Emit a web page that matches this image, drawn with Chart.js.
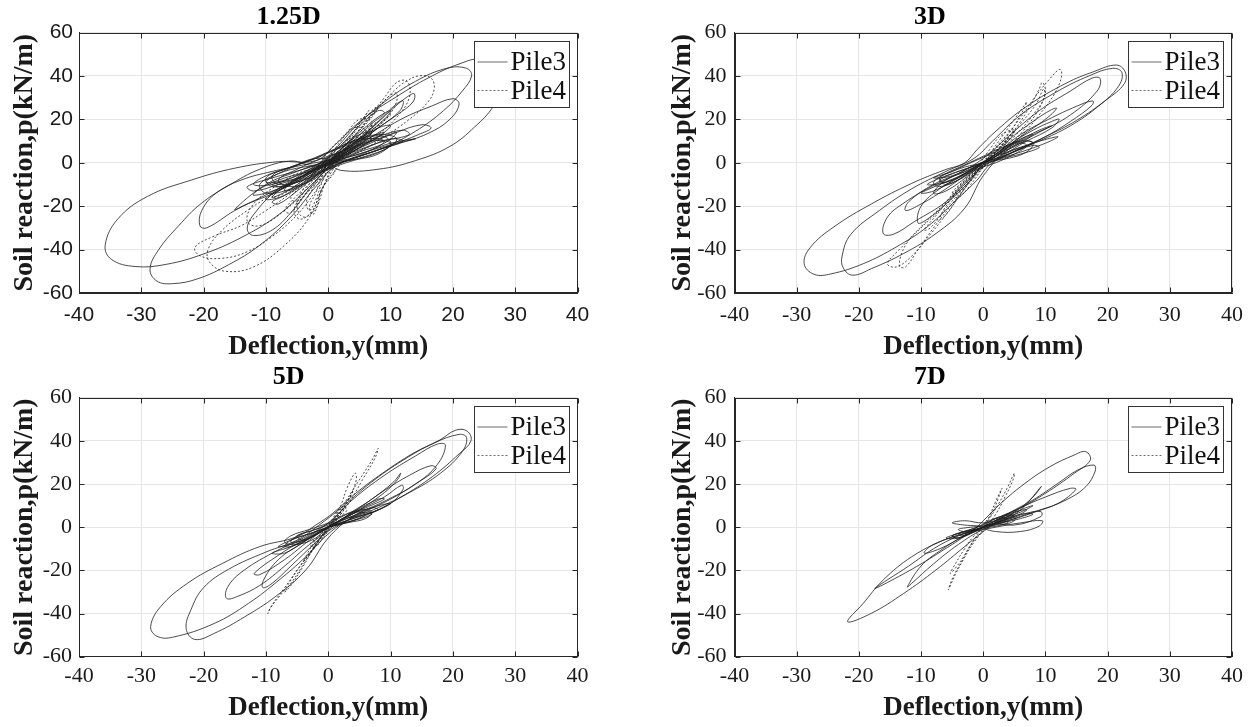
<!DOCTYPE html>
<html>
<head>
<meta charset="utf-8">
<script src="https://cdn.jsdelivr.net/npm/chart.js@4.4.0/dist/chart.umd.min.js"></script>
<style>
  html, body { margin: 0; padding: 0; background: #fff; }
  #wrap { position: relative; width: 1255px; height: 727px; overflow: hidden; }
  canvas { position: absolute; }
</style>
</head>
<body>
<div id="wrap">
  <canvas id="c125" width="628" height="363" style="left:0;top:0"></canvas>
  <canvas id="c3d" width="627" height="363" style="left:628px;top:0"></canvas>
  <canvas id="c5d" width="628" height="364" style="left:0;top:363px"></canvas>
  <canvas id="c7d" width="627" height="364" style="left:628px;top:363px"></canvas>
</div>
<script>
const panelTitles = ["1.25D", "3D", "5D", "7D"];
const seriesLabels = ["Pile3", "Pile4"];
const xTickValues = [-40, -30, -20, -10, 0, 10, 20, 30, 40];
const yTickValues = [-60, -40, -20, 0, 20, 40, 60];
const xAxisTitle = "Deflection,y(mm)";
const yAxisTitle = "Soil reaction,p(kN/m)";

// traced loops, [deflection, reaction] in drawing order
const pile3_125D = [
  [0,0],[2,-3.5],[8,-3],[14,1],[19.5,7.5],[23.5,16.5],[26.5,26],[27.5,34],[26.5,42],[24.5,47.5],[21,45.5],[16,39],[11,30.5],[5.5,20],[1,8],[-2,1],
  [-8,0.5],[-15,-2.5],[-22,-8],[-29,-15.5],[-33.8,-26],[-35.8,-38],[-34.8,-44.5],[-31,-47.8],[-26,-46.8],[-20,-42],[-14,-34.5],[-8,-24],[-3,-11],[0,-3],
  [4,2],[9,7],[14,14.5],[18.5,24],[21.5,33],[23,40],[22.2,43.5],[19,43.5],[14,37.5],[9,28],[4.5,17],[1,6],[-2,-1],
  [-6,0.8],[-11,-3],[-16,-10.5],[-20.5,-19],[-24,-29],[-27.2,-40],[-28.6,-49],[-27.5,-54.5],[-25,-55.7],[-21,-53.5],[-16,-47],[-11,-38],[-6,-25],[-2,-11],[1,-2],
  [6,4],[11,8.5],[16,13.5],[19.5,20],[21,27],[20,29.5],[16.5,26],[12,20.5],[7,12],[2,3],
  [-4,-1],[-9,-4],[-14,-8],[-18,-14],[-20.3,-22],[-20.6,-29],[-19.5,-30],[-15,-22],[-10.5,-15.5],[-6,-9],[-1,-1.5],
  [5,3],[10,8],[14.5,13],[16.5,16],[15,17.5],[11,14],[6,8],[1,1],
  [-4,-6],[-8,-12],[-12,-24],[-13,-30.5],[-12,-33.5],[-9,-31],[-6,-23],[-3,-12],[0,-2],
  [3,6],[7,16],[10,24],[12.5,30],[13.8,31.8],[13.6,28],[11,22],[7,14],[3,5],
  [-5,-4],[-10,-10],[-15,-21.5],[-13,-19],[-8,-13],[-3,-5],
  [4,9],[8,19],[10.5,26],[12,28.5],[11.5,24],[8,16],[4,8],[0,1],
  [-4,-6],[-8,-13],[-9,-16],[-6,-12],[-2,-4],[3,4],[7,10],[9,14],[7,12],[3,5],[0,0],
  [2,5],[5,9],[7,14],[5,13],[1,4],[-3,-3],[-6,-9],[-7,-13],[-4,-10],[0,-2],[4,6],[8,12],[10,17],[8,16],[3,7],[-2,-2],[-5,-7],[-9,-10],[-7,-11],[-3,-6],[1,0],
  [-2,2],[-6,-2],[-10,-6],[-12,-10],[-9,-10],[-5,-6],[-1,-1],[3,5],[6,9],[9,12],[11,14],[9,9],[5,5],[1,0],
  [-3,-4],[-7,-7],[-11,-12],[-12,-15],[-8,-12],[-4,-6],[0,0],[3,3],[7,8],[10,11],[12,10],[8,6],[4,2],[0,-1],
  [-4,-2],[-8,-5],[-10,-9],[-7,-8],[-3,-3],[2,2],[5,7],[7,11],[5,10],[2,5],[-1,1],
  [0,0],[3,7],[6,13],[9,20],[10,24],[8,21],[5,14],[2,6],[-1,-2],[-4,-9],[-7,-15],[-9,-18],[-8,-19],[-5,-13],[-2,-6],[1,1],
  [5,6],[9,10],[13,13],[12,15],[8,12],[4,7],[0,1],[-4,-3],[-9,-7],[-13,-11],[-12,-13],[-8,-10],[-3,-5],[0,0],
  [4,10],[7,18],[9,23],[8,24],[5,17],[2,8],[-2,-3],[-6,-10],[-9,-14],[-10,-17],[-7,-15],[-3,-8],[0,-1],
  [6,5],[11,9],[14,11],[10,9],[5,4],[0,0],
  [5,2],[9,6],[11,11],[8,13],[4,10],[0,5],[-4,0],[-8,-5],[-11,-10],[-10,-14],[-6,-12],[-2,-6],[1,-1],
  [6,3],[10,8],[9,12],[5,11],[1,6],[-3,1],[-7,-3],[-10,-7],[-9,-11],[-5,-9],[-1,-4],[2,0],
  [7,6],[9,10],[6,11],[2,7],[-2,2],[-6,-2],[-9,-6],[-8,-10],[-4,-8],[0,-3],
  [4,1],[8,4],[10,9],[7,10],[3,6],[-1,2],[-5,-3],[-8,-8],[-6,-11],[-2,-7],[0,0]
];
const pile4_125D = [
  [0,0],[2,6],[5,15],[8,25],[10.5,33],[12.5,37.5],[14.5,40],[16.5,39],[17,34],[16,28],[13,20],[9,12],[5,5],[1,0],
  [-3,-7],[-6,-14],[-10,-22],[-14,-29],[-18.5,-34],[-21.4,-39],[-20.5,-43],[-17,-44],[-13,-41],[-9,-34],[-5,-24],[-2,-13],[0,-4],
  [3,8],[6,19],[9,30],[11,37],[12.7,37.5],[13,30],[11,21],[8,13],[4,5],[0,-1],
  [-3,-5],[-8,-13],[-13,-22],[-17,-31],[-19.3,-40],[-19,-46],[-16.5,-50],[-12,-48],[-7,-38],[-3,-25],[-1,-12],[1,-2],
  [4,11],[7,22],[9.5,30],[11,32],[10.5,25],[7.5,15],[4,6],[0,0],
  [-2,-6],[-4,-14],[-5.5,-22],[-4.5,-26],[-2.5,-22],[-1,-12],[1,-3],
  [-4,-4],[-8,-10],[-12,-19],[-13,-27],[-11,-29],[-7,-22],[-3,-11],[0,-2],
  [3,5],[6,12],[9,20],[10,22],[8,17],[5,10],[2,3],[0,0],
  [2,5],[4,10],[6,16],[7,18],[6,13],[4,7],[1,1],[-1,-5],[-2.5,-12],[-3.5,-18],[-3,-22],[-2,-17],[-1,-9],[0,-3],
  [2,3],[4,8],[5,12],[4,10],[2,5],[0,0],[-2,-3],[-5,-8],[-8,-13],[-9,-16],[-7,-14],[-4,-8],[-1,-2],
  [3,6],[6,13],[8,19],[7,17],[4,9],[1,2],
  [0,0],[2,7],[4,14],[6,22],[6.5,24],[5,18],[3,10],[1,2],[-1,-6],[-2,-14],[-3,-20],[-2.5,-24],[-1.5,-18],[-0.5,-9],[1,0],
  [3,9],[5,17],[7,24],[8,26],[7,21],[4,12],[1,3],[-2,-7],[-5,-15],[-7,-22],[-6,-23],[-4,-16],[-1,-6],[0,0],
  [3,6],[6,13],[7,19],[5,20],[3,14],[0,5],[-2,-3],[-4,-12],[-5,-20],[-4,-25],[-2,-21],[-1,-12],[1,-4],
  [4,6],[6,11],[4,12],[1,5],[-2,-4],[-4,-10],[-6,-16],[-5,-18],[-3,-12],[0,-4],
  [2,2],[5,9],[6,15],[4,16],[2,10],[0,2]
];
const pile3_3D = [
  [0,0],[2,1],[5.5,6],[10,12],[15,19.5],[19.8,29],[22.7,36.5],[22.8,42],[21.4,45],[17.8,42],[13.3,36.6],[7,26],[2.2,15],[-1,6],[-3,0],
  [-6.3,-3.4],[-11.5,-9.5],[-18,-19],[-24,-29.5],[-27.8,-39],[-28.8,-46.5],[-27.2,-51.4],[-24.5,-51.2],[-19.3,-46.5],[-14,-38.8],[-9,-29.5],[-4.3,-17],[-1,-8],[1,-1],
  [4,4],[9,10],[14,17],[18.5,26],[21.7,35],[22.3,41.5],[20.8,43.5],[17,40],[12,33],[6,22],[1.5,10],[-1.5,2],
  [-6,-4],[-11.5,-12],[-16.7,-22],[-21.3,-33],[-22.7,-43],[-22.5,-48.5],[-21,-51.8],[-18,-48.8],[-12.8,-41.8],[-7.6,-32.6],[-3,-21],[0,-6],
  [4,6],[9,14],[14,22],[18.3,33],[18.8,38.8],[17.5,39],[14,33],[9,24],[4,12],[0,2],
  [-4,-5],[-9,-12],[-13,-19],[-15.4,-25],[-16.1,-32.5],[-14.5,-33],[-11,-27],[-6,-18],[-2,-7],[1,0],
  [5,5],[10,12],[14,19],[17.5,26.5],[17.6,28.5],[15,26],[10.5,20],[6,13],[2,4],
  [-3,-5],[-7,-12],[-10,-20],[-10.5,-27.7],[-9,-26],[-6,-19],[-2,-8],[0,-1],
  [4,8],[8,15],[11,19],[12.2,20],[11,16],[7,10],[3,4],
  [4,10],[8,19],[11,24.5],[11.8,25],[10,20],[6,12],[2,3],
  [-3,-4],[-8,-10],[-12,-18],[-12.5,-22],[-10,-19],[-6,-12],[-2,-4],
  [2,3],[6,9],[8,13],[6,11],[2,4],[-2,-3],[-6,-8],[-8,-14],[-6,-13],[-2,-5],[0,0],
  [2,2],[5,6],[8,9],[7,10],[3,5],[-1,-1],[-4,-4],[-7,-8],[-6,-9],[-3,-5],[0,-1],
  [3,2],[6,4],[9,7],[8,8],[4,4],[0,0],[-3,-2],[-6,-5],[-8,-7],[-5,-6],[-2,-2],[1,1],
  [4,7],[8,13],[11,17],[9,15],[5,9],[1,2],[-3,-5],[-7,-10],[-10,-14],[-8,-13],[-4,-7],[0,0],
  [5,4],[10,9],[12,12],[8,9],[3,4],[-2,-2],[-6,-6],[-9,-10],[-6,-9],[-2,-4],[0,0],
  [4,2],[7,5],[8,9],[6,10],[3,7],[0,3],[-3,-1],[-6,-5],[-8,-9],[-7,-11],[-4,-8],[-1,-3],[2,0],
  [5,4],[7,8],[5,9],[2,5],[-2,0],[-5,-4],[-7,-7],[-6,-10],[-3,-6],[0,0]
];
const pile4_3D = [
  [0,0],[2,7],[5,17],[8,29],[10.5,38],[12.3,43],[12.6,40],[11.5,32],[9,22],[6,12],[3,4],[0,-2],
  [-3,-9],[-6,-19],[-10,-30],[-13.5,-40],[-15.4,-46.5],[-14,-48],[-11.5,-43],[-8.5,-33],[-5.5,-22],[-3,-12],[0,-2],
  [2,5],[5,15],[7.5,26],[9,34],[9.5,37],[10,33],[9,25],[6.5,15],[3.5,6],[0,-1],
  [-3,-8],[-6,-18],[-9.5,-28],[-12.5,-38],[-13.5,-47.5],[-12.5,-48],[-10.5,-40],[-8,-30],[-5,-19],[-2,-8],[0,0],
  [3,8],[6,18],[8.5,27],[9.7,34],[9.8,30],[8,22],[5,12],[2,3],
  [-2,-6],[-5,-15],[-7.5,-24],[-9.5,-31],[-8.5,-30],[-6,-21],[-3,-11],[0,0],
  [1.5,4],[3.5,10],[5,15],[4.5,12],[2.5,6],[0,-1],[-2,-6],[-4,-12],[-5,-16],[-4,-13],[-2,-7],[0,-1],
  [2,5],[4,11],[3.5,9],[1,2],
  [0,0],[2,8],[4,16],[6,24],[7,28],[6,22],[4,13],[1,3],[-2,-8],[-4,-16],[-6,-24],[-7,-26],[-6,-20],[-3,-10],[0,0],
  [2,5],[4,10],[5,15],[3,13],[1,6],[-1,-2],[-3,-8],[-5,-14],[-4,-16],[-2,-10],[0,-2]
];
const pile3_5D = [
  [0,0],[2.5,1.8],[6.8,6.4],[11.7,14],[16.7,23.4],[21,34],[22.9,40],[22.3,44.5],[20.5,45],[17.9,40.4],[13.6,34.2],[8.7,25],[4.4,15.7],[0.7,6.4],[-2,1],
  [-5,-4.4],[-11,-9],[-17,-16.8],[-22.6,-26],[-26.9,-36.8],[-28.5,-46],[-27.5,-50.5],[-25,-51],[-18.3,-44.6],[-12.8,-35.3],[-7.9,-24.5],[-3.6,-13.7],[-0.5,-4.4],
  [3,3],[8,9],[13,16],[18,25],[21.5,35],[22.2,41.5],[21,43],[17,39],[12,31],[7,21],[2.5,10],[-1,2],
  [-5,-6],[-10,-11.5],[-16,-19.5],[-20,-28],[-22,-38],[-22.8,-47],[-21.4,-52],[-18.3,-49.2],[-13.4,-41.5],[-8.5,-32.2],[-3.6,-19.8],[0,-5],
  [4,5],[9,12],[14,20],[17.5,29],[18.8,38],[17.5,38.5],[14,33],[9,24],[4,13],[0,2],
  [-4,-5],[-9,-12],[-14,-21],[-16.2,-28],[-16.3,-33],[-14.5,-32],[-11,-27],[-7,-18],[-3,-8],[1,0],
  [5,6],[10,13],[14,20],[17.3,27],[16.5,28.5],[13,24],[9,17],[4.5,8],[0,0],
  [-4,-7],[-8,-15],[-10.3,-24],[-10.5,-28],[-9,-26],[-6,-18],[-2,-7],[1,1],
  [5,8],[9,16],[11.1,22],[11.6,25],[10.5,21],[7,13],[3,5],
  [6,6],[10,11],[12,17.5],[11.8,19.5],[9,14],[5,8],[0,0],
  [-4,-6],[-8,-13],[-11.9,-21.4],[-11,-22],[-7,-15],[-3,-6],[0,0],
  [2,2],[5,5],[8,8],[7,9],[3,5],[0,0],[-3,-3],[-6,-6],[-7,-9],[-5,-8],[-2,-3],[1,1],
  [4,3],[7,6],[6,7],[2,3],[-2,-1],[-5,-4],[-4,-6],[-1,-2],[0,0],
  [3,5],[6,9],[9,13],[8,13],[4,7],[0,0],[-3,-5],[-6,-9],[-9,-12],[-7,-12],[-4,-7],[0,0],
  [4,4],[8,8],[10,11],[7,9],[3,4],[-2,-2],[-6,-6],[-8,-9],[-5,-7],[-1,-1],
  [3,2],[6,4],[7,7],[5,8],[2,5],[0,2],[-3,-1],[-6,-4],[-7,-7],[-5,-8],[-2,-5],[0,0],
  [4,3],[6,6],[4,7],[1,3],[-2,-1],[-5,-4],[-6,-7],[-3,-5],[0,0]
];
const pile4_5D = [
  [0,0],[1.5,6],[3,13],[5,22],[7,31],[8,36.5],[7.5,32],[5.5,22],[3.5,12],[1.5,4],[0,-2],
  [-2,-9],[-4.5,-18],[-7,-28],[-9,-36],[-9.7,-40],[-9.2,-37],[-7,-29],[-5,-20],[-2.5,-10],[0,-1],
  [2,6],[3.5,14],[4.5,22],[4.3,25],[3,18],[2,10],[0.5,2],
  [-1.5,-6],[-3.5,-15],[-5.5,-24],[-7,-30],[-6,-27],[-4,-18],[-2,-8],[0,0],
  [1,4],[2.5,9],[2,7],[0.5,1],[-1,-4],[-2.5,-9],[-2,-8],[0,0],
  [1.5,5],[3,12],[4,17],[3.5,14],[2,7],[0,0],[-1.5,-6],[-3,-12],[-4,-16],[-3.5,-13],[-2,-6],[0,0],
  [1.5,4],[3,8],[2,9],[0.5,3],[-1,-3],[-3,-8],[-2,-9],[-0.5,-3],[0,0]
];
const pile3_7D = [
  [0,0],[1.5,3.3],[5.4,8],[10,15.7],[14.6,24.9],[17.2,31],[16.5,35],[14.6,33.4],[10.7,28],[6.7,20.3],[2.8,11],[0,3],[-1.7,-1.3],
  [-6.3,-5.9],[-11.5,-13.7],[-16.1,-24.5],[-19.3,-35.3],[-21.8,-43.8],[-18,-39.9],[-12.8,-30.7],[-7.6,-19.8],[-3,-9],[-0.4,-2.9],
  [4.1,6.4],[8,12.6],[12,20.3],[15.2,26.5],[17.8,28.8],[18,26],[16.5,18.8],[13.3,12.6],[9.3,8],[4,3],[0,0],
  [-4,-4],[-8,-10],[-12,-18],[-17.4,-28.3],[-15,-25],[-10,-17],[-5,-8],[-1,-1],
  [3,3],[6,8],[9.3,18.8],[8,14],[5,7],[1,1],
  [-3,-4],[-7,-11],[-10,-18],[-12.2,-27.6],[-11.5,-26],[-8,-17],[-4,-8],[0,-1],
  [4,3],[8,7],[12,11],[14.9,17.5],[14,18],[10,14],[6,9],[2,3],
  [5,1],[9.3,5],[9.3,7.2],[7,6.5],[3,2.5],[0,0],
  [2,-2],[6,-2],[9,0.5],[9.5,3],[6,2],[2,0],
  [-3,-3],[-8,-8],[-9.5,-12],[-7,-10],[-3,-4],[0,0],
  [-3,1],[-5,2],[-3,3],[0,2],[3,4],[6,7],[8,10],[6,8],[2,2],[0,0],
  [1,1],[3,3],[5,5],[4,6],[2,3],[-1,-1],[-3,-2],[-5,-4],[-4,-5],[-2,-2],[0,0],
  [2,1],[4,2],[3,3],[1,1],[-2,0],[-4,-1],[-3,-2],[0,0],
  [3,2],[6,4],[8,6],[6,6],[3,3],[0,0],[-2,-2],[-4,-3],[-6,-5],[-4,-5],[-2,-2],[0,0],
  [2,3],[5,5],[7,8],[5,7],[2,3],[0,0],
  [3,1],[5,3],[5,5],[3,5],[1,3],[-1,0],[-3,-2],[-5,-4],[-4,-5],[-2,-3],[0,0],
  [2,2],[4,4],[2,4],[0,1],[-2,-1],[-4,-3],[-3,-4],[-1,-1]
];
const pile4_7D = [
  [0,0],[1,4],[2.5,11],[4,19],[5,25],[4.8,22],[3.5,14],[2,6],[0.5,0],
  [-1.5,-7],[-3,-14],[-4.5,-22],[-5.6,-29],[-5,-24],[-3.5,-16],[-2,-8],[0,-1],
  [1,5],[2,12],[3,18],[2.5,14],[1.5,7],[0,1],
  [-1.5,-6],[-3,-13],[-4.5,-19],[-5.3,-21.4],[-4.5,-17],[-3,-10],[-1.5,-4],[0,0]
];

const SERIF = '"Liberation Serif", "Times New Roman", Times, serif';
const SANS = '"Liberation Sans", Arial, sans-serif';

// box frame, inward ticks and the MATLAB-style legend on top of the data
const framePlugin = {
  id: "frameLegend",
  afterDatasetsDraw(chart) {
    const { ctx, chartArea: a, scales } = chart;
    const l = Math.round(a.left) + 0.5, r = Math.round(a.right) - 0.5;
    const t = Math.round(a.top) + 0.5, b = Math.round(a.bottom) - 0.5;
    ctx.save();
    ctx.strokeStyle = "#262626";
    ctx.lineWidth = 1;
    ctx.setLineDash([]);
    ctx.strokeRect(l, t, r - l, b - t);
    ctx.beginPath();
    xTickValues.forEach((v) => {
      const px = Math.round(scales.x.getPixelForValue(v)) + 0.5;
      ctx.moveTo(px, b); ctx.lineTo(px, b - 5);
      ctx.moveTo(px, t); ctx.lineTo(px, t + 5);
    });
    yTickValues.forEach((v) => {
      const py = Math.round(scales.y.getPixelForValue(v)) + 0.5;
      ctx.moveTo(l, py); ctx.lineTo(l + 5, py);
      ctx.moveTo(r, py); ctx.lineTo(r - 5, py);
    });
    ctx.stroke();

    // legend box
    const bw = 95, bh = 66;
    const bx = Math.round(a.right - 9 - bw) + 0.5;
    const by = Math.round(a.top + 8.5) + 0.5;
    ctx.fillStyle = "#fff";
    ctx.fillRect(bx, by, bw, bh);
    ctx.strokeStyle = "#333";
    ctx.strokeRect(bx, by, bw, bh);
    ctx.font = "27px " + SERIF;
    ctx.textBaseline = "middle";
    ctx.textAlign = "left";
    chart.data.datasets.forEach((ds, i) => {
      const yy = by + 20.5 + i * 28.5;
      ctx.beginPath();
      ctx.strokeStyle = "#444";
      ctx.lineWidth = 0.8;
      ctx.setLineDash(ds.borderDash || []);
      ctx.moveTo(bx + 3, yy);
      ctx.lineTo(bx + 33, yy);
      ctx.stroke();
      ctx.fillStyle = "#111";
      ctx.fillText(ds.label, bx + 36, yy + 1);
    });
    ctx.restore();
  },
};

function toPoints(pairs) {
  return pairs.map((p) => ({ x: p[0], y: p[1] }));
}

function makePanel(id, title, p3, p4, g) {
  const ctx = document.getElementById(id).getContext("2d");
  return new Chart(ctx, {
    type: "scatter",
    data: {
      datasets: [
        {
          label: seriesLabels[0],
          data: toPoints(p3),
          showLine: true,
          borderColor: "#1e1e1e",
          borderWidth: 0.8,
          pointRadius: 0,
          tension: 0.4,
        },
        {
          label: seriesLabels[1],
          data: toPoints(p4),
          showLine: true,
          borderColor: "#1e1e1e",
          borderWidth: 0.8,
          borderDash: [2, 2],
          pointRadius: 0,
          tension: 0.4,
        },
      ],
    },
    options: {
      responsive: false,
      devicePixelRatio: 1,
      animation: false,
      layout: { padding: { left: 0, right: g.padRight, top: 0, bottom: 0 } },
      plugins: {
        legend: { display: false },
        tooltip: { enabled: false },
        title: {
          display: true,
          text: title,
          color: "#000",
          font: { family: SERIF, size: 26, weight: "bold", lineHeight: 1 },
          padding: { top: g.titleTop, bottom: g.titleBottom },
        },
      },
      scales: {
        x: {
          type: "linear",
          min: -40,
          max: 40,
          afterBuildTicks: (s) => { s.ticks = xTickValues.map((v) => ({ value: v })); },
          afterFit: (s) => { s.height = g.xH; s.paddingLeft = 0; s.paddingRight = 0; },
          grid: { color: "#e6e6e6", drawTicks: false },
          border: { display: true, color: "#262626" },
          ticks: {
            color: "#1a1a1a",
            padding: g.xTickPad,
            maxRotation: 0,
            font: { family: g.tickFamily, size: g.tickSize, weight: "normal", lineHeight: 1 },
          },
          title: {
            display: true,
            text: xAxisTitle,
            color: "#1a1a1a",
            font: { family: SERIF, size: 27, weight: "bold", lineHeight: 1 },
            padding: { top: 0, bottom: g.xTitlePad },
          },
        },
        y: {
          type: "linear",
          min: -60,
          max: 60,
          afterBuildTicks: (s) => { s.ticks = yTickValues.map((v) => ({ value: v })); },
          afterFit: (s) => { s.width = g.yW; s.paddingTop = 0; s.paddingBottom = 0; },
          grid: { color: "#e6e6e6", drawTicks: false },
          border: { display: true, color: "#262626" },
          ticks: {
            color: "#1a1a1a",
            padding: g.yTickPad,
            font: { family: g.tickFamily, size: g.tickSize, weight: "normal", lineHeight: 1 },
          },
          title: {
            display: true,
            text: yAxisTitle,
            color: "#1a1a1a",
            font: { family: SERIF, size: 28, weight: "bold", lineHeight: 1 },
            padding: { top: g.yTitlePad, bottom: 0 },
          },
        },
      },
    },
    plugins: [framePlugin],
  });
}

makePanel("c125", panelTitles[0], pile3_125D, pile4_125D, {
  padRight: 50.5, yW: 79, xH: 70, titleTop: 4, titleBottom: 2.5,
  tickFamily: SANS, tickSize: 21, xTickPad: 11.5, yTickPad: 6, xTitlePad: 2.5, yTitlePad: 11,
});
makePanel("c3d", panelTitles[1], pile3_3D, pile4_3D, {
  padRight: 23, yW: 106.5, xH: 70, titleTop: 4, titleBottom: 2.5,
  tickFamily: SERIF, tickSize: 22, xTickPad: 11, yTickPad: 8, xTitlePad: 2.5, yTitlePad: 40.5,
});
makePanel("c5d", panelTitles[2], pile3_5D, pile4_5D, {
  padRight: 50.5, yW: 79, xH: 70.3, titleTop: 1, titleBottom: 7.7,
  tickFamily: SERIF, tickSize: 22, xTickPad: 9, yTickPad: 7, xTitlePad: 5.2, yTitlePad: 11,
});
makePanel("c7d", panelTitles[3], pile3_7D, pile4_7D, {
  padRight: 23, yW: 106.5, xH: 70.3, titleTop: 1, titleBottom: 7.7,
  tickFamily: SERIF, tickSize: 22, xTickPad: 9, yTickPad: 8, xTitlePad: 5.2, yTitlePad: 40.5,
});
</script>
</body>
</html>
